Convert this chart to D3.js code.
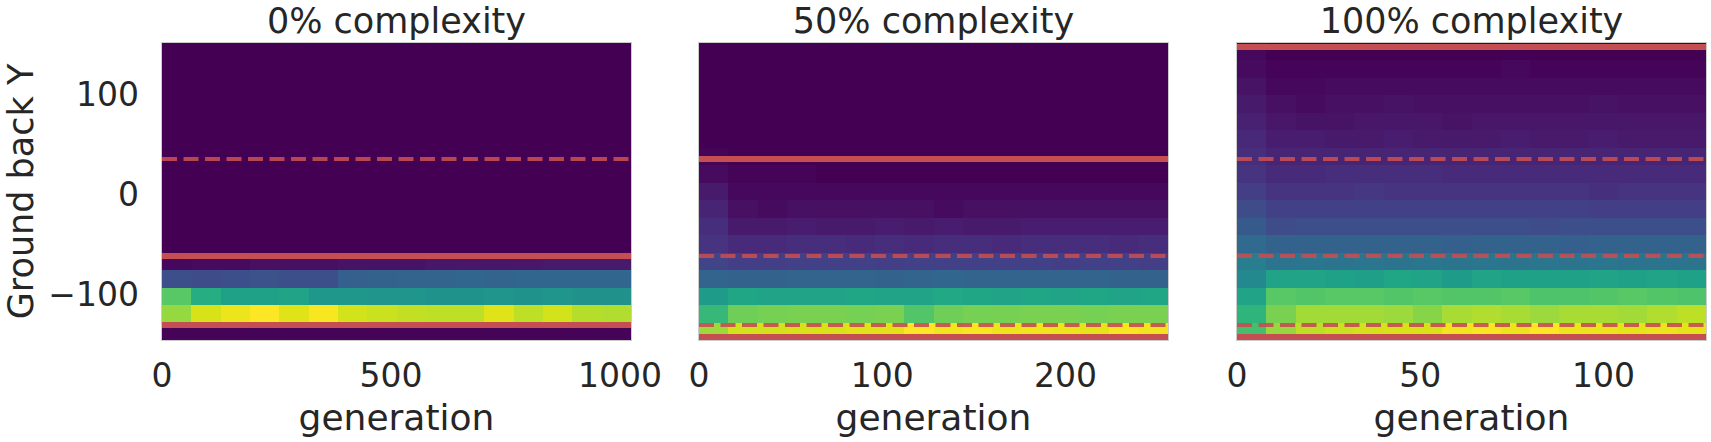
<!DOCTYPE html>
<html>
<head>
<meta charset="utf-8">
<script src="https://cdn.jsdelivr.net/npm/d3@7"></script>
<style>
    body { margin: 0; background: #fff; }
    text { font-family: "DejaVu Sans", sans-serif; fill: #262626; }
</style>
</head>
<body>
<div id="chart"></div>
<script>

// Panel titles and generation extents (16 columns each)
var titles = ["0% complexity", "50% complexity", "100% complexity"];
var genMax = [1024, 256, 128];
var xTicks = [[0, 500, 1000], [0, 100, 200], [0, 50, 100]];

// Ground back Y extent, 17 rows
var yExtent = [-146, 151];
var yTicks = [100, 0, -100];

// Reference levels (solid / dashed) per panel
var solidLevels = [[-62, -131], [35, -143], [147, -143]];
var dashedLevels = [[35], [-62, -131], [35, -62, -131]];

// Normalised density, rows top -> bottom, 16 generation bins each
var heat0 = [
    [0,0,0,0,0,0,0,0,0,0,0,0,0,0,0,0],
    [0,0,0,0,0,0,0,0,0,0,0,0,0,0,0,0],
    [0,0,0,0,0,0,0,0,0,0,0,0,0,0,0,0],
    [0,0,0,0,0,0,0,0,0,0,0,0,0,0,0,0],
    [0,0,0,0,0,0,0,0,0,0,0,0,0,0,0,0],
    [0,0,0,0,0,0,0,0,0,0,0,0,0,0,0,0],
    [0,0,0,0,0,0,0,0,0,0,0,0,0,0,0,0],
    [0,0,0,0,0,0,0,0,0,0,0,0,0,0,0,0],
    [0,0,0,0,0,0,0,0,0,0,0,0,0,0,0,0],
    [0,0,0,0,0,0,0,0,0,0,0,0,0,0,0,0],
    [0,0,0,0,0,0,0,0,0,0,0,0,0,0,0,0],
    [0,0,0,0,0,0,0,0,0,0,0,0,0,0,0,0],
    [0.02,0.03,0.03,0.04,0.04,0.04,0.05,0.05,0.05,0.06,0.06,0.06,0.06,0.07,0.07,0.07],
    [0.24,0.23,0.24,0.25,0.24,0.24,0.30,0.31,0.32,0.32,0.33,0.32,0.33,0.33,0.33,0.33],
    [0.74,0.62,0.57,0.57,0.58,0.53,0.53,0.52,0.52,0.51,0.51,0.52,0.51,0.52,0.50,0.50],
    [0.84,0.94,0.97,1.00,0.95,0.99,0.93,0.92,0.91,0.90,0.90,0.95,0.90,0.93,0.89,0.88],
    [0.01,0.01,0.01,0.01,0.01,0.01,0.01,0.01,0.01,0.01,0.01,0.01,0.01,0.01,0.01,0.01]
];

var heat50 = [
    [0,0,0,0,0,0,0,0,0,0,0,0,0,0,0,0],
    [0,0,0,0,0,0,0,0,0,0,0,0,0,0,0,0],
    [0,0,0,0,0,0,0,0,0,0,0,0,0,0,0,0],
    [0,0,0,0,0,0,0,0,0,0,0,0,0,0,0,0],
    [0,0,0,0,0,0,0,0,0,0,0,0,0,0,0,0],
    [0,0,0,0,0,0,0,0,0,0,0,0,0,0,0,0],
    [0.01,0,0,0,0,0,0,0,0,0,0,0,0,0,0,0],
    [0.03,0.01,0.01,0.01,0,0,0,0,0,0,0,0,0,0,0,0],
    [0.07,0.02,0.02,0.02,0.02,0.02,0.02,0.02,0.02,0.02,0.02,0.02,0.02,0.02,0.02,0.02],
    [0.10,0.04,0.03,0.04,0.04,0.04,0.04,0.04,0.03,0.04,0.04,0.04,0.04,0.04,0.04,0.04],
    [0.13,0.07,0.07,0.08,0.07,0.07,0.08,0.07,0.08,0.07,0.07,0.08,0.08,0.08,0.08,0.08],
    [0.15,0.12,0.12,0.13,0.13,0.12,0.13,0.12,0.13,0.13,0.12,0.13,0.13,0.13,0.12,0.13],
    [0.20,0.18,0.18,0.19,0.19,0.19,0.18,0.19,0.19,0.19,0.19,0.19,0.18,0.19,0.19,0.18],
    [0.32,0.31,0.31,0.32,0.32,0.32,0.31,0.32,0.33,0.32,0.32,0.32,0.32,0.32,0.31,0.31],
    [0.55,0.59,0.58,0.58,0.58,0.59,0.58,0.58,0.60,0.59,0.58,0.59,0.58,0.59,0.58,0.59],
    [0.67,0.78,0.79,0.80,0.80,0.79,0.80,0.73,0.78,0.79,0.79,0.80,0.80,0.79,0.80,0.80],
    [0.85,0.93,0.93,0.94,0.94,0.95,0.95,1.00,0.98,0.99,0.97,0.98,0.97,0.96,0.99,0.98]
];

var heat100 = [
    [0.02,0,0,0,0,0,0,0,0,0,0,0,0,0,0,0],
    [0.03,0.01,0.01,0.01,0.01,0.01,0.01,0.01,0.01,0.02,0.01,0.01,0.01,0.01,0.01,0.01],
    [0.05,0.02,0.02,0.03,0.03,0.03,0.03,0.03,0.03,0.03,0.03,0.03,0.03,0.03,0.03,0.03],
    [0.07,0.04,0.03,0.04,0.04,0.05,0.04,0.04,0.04,0.04,0.04,0.04,0.05,0.04,0.04,0.04],
    [0.09,0.06,0.05,0.05,0.06,0.06,0.06,0.05,0.06,0.06,0.06,0.06,0.06,0.06,0.06,0.06],
    [0.11,0.08,0.08,0.07,0.07,0.08,0.07,0.07,0.07,0.08,0.07,0.07,0.08,0.07,0.07,0.07],
    [0.13,0.10,0.10,0.10,0.10,0.10,0.10,0.10,0.10,0.10,0.10,0.10,0.10,0.10,0.10,0.10],
    [0.15,0.12,0.12,0.13,0.13,0.13,0.13,0.12,0.12,0.12,0.12,0.12,0.12,0.12,0.12,0.12],
    [0.18,0.15,0.15,0.15,0.16,0.15,0.15,0.15,0.15,0.15,0.15,0.15,0.14,0.15,0.15,0.15],
    [0.23,0.19,0.19,0.19,0.19,0.19,0.19,0.19,0.19,0.19,0.19,0.19,0.18,0.18,0.18,0.18],
    [0.28,0.23,0.24,0.24,0.24,0.24,0.24,0.24,0.24,0.24,0.23,0.24,0.24,0.24,0.24,0.24],
    [0.34,0.31,0.31,0.31,0.31,0.31,0.31,0.30,0.31,0.31,0.31,0.30,0.31,0.31,0.31,0.31],
    [0.42,0.38,0.39,0.38,0.39,0.38,0.39,0.38,0.39,0.38,0.39,0.38,0.39,0.38,0.38,0.38],
    [0.47,0.58,0.58,0.57,0.56,0.59,0.58,0.55,0.58,0.57,0.57,0.57,0.58,0.57,0.58,0.57],
    [0.58,0.74,0.73,0.74,0.74,0.73,0.74,0.73,0.73,0.74,0.72,0.72,0.73,0.74,0.73,0.72],
    [0.65,0.80,0.86,0.86,0.86,0.85,0.82,0.87,0.88,0.87,0.85,0.87,0.87,0.86,0.88,0.90],
    [0.70,0.84,0.90,0.92,0.93,0.94,0.94,0.98,0.99,0.97,1.00,0.97,0.97,0.96,0.97,0.96]
];

var heats = [heat0, heat50, heat100];

(function(d3) {

    var width = 1711, height = 442;
    var panelLeft = [162, 699, 1237];
    var panelWidth = 469;
    var top = 43, bottom = 340;
    var red = "#c44e52";

    var svg = d3.select("#chart").append("svg")
        .attr("width", width)
        .attr("height", height);

    var y = d3.scaleLinear().domain(yExtent).range([bottom, top]);
    var color = d3.scaleSequential(d3.interpolateViridis).domain([0, 1]);

    /**
     * Draw one heatmap panel.
     */
    function drawPanel(p) {
        var data = heats[p];
        var nRows = data.length, nCols = data[0].length;
        var x = d3.scaleLinear().domain([0, genMax[p]])
            .range([panelLeft[p], panelLeft[p] + panelWidth]);
        var xStep = genMax[p] / nCols;
        var yStep = (yExtent[1] - yExtent[0]) / nRows;

        var g = svg.append("g");

        var clipId = "clip" + p;
        g.append("clipPath").attr("id", clipId)
            .append("rect")
            .attr("x", x(0)).attr("y", top)
            .attr("width", x(genMax[p]) - x(0)).attr("height", bottom - top);

        // cells
        var cells = [];
        data.forEach(function(row, r) {
            row.forEach(function(v, c) {
                cells.push({r: r, c: c, v: v});
            });
        });
        g.append("g").attr("clip-path", "url(#" + clipId + ")")
            .selectAll("rect.cell").data(cells).enter()
            .append("rect")
            .attr("class", "cell")
            .attr("shape-rendering", "crispEdges")
            .attr("x", function(d) { return x(d.c * xStep); })
            .attr("width", function(d) { return x((d.c + 1) * xStep) - x(d.c * xStep) + 1; })
            .attr("y", function(d) { return y(yExtent[1] - d.r * yStep); })
            .attr("height", function(d) { return y(yExtent[1] - (d.r + 1) * yStep) - y(yExtent[1] - d.r * yStep) + 1; })
            .attr("fill", function(d) { return color(d.v); });

        var lines = g.append("g").attr("clip-path", "url(#" + clipId + ")");

        // solid levels
        lines.selectAll("line.solid").data(solidLevels[p]).enter()
            .append("line")
            .attr("x1", x(0)).attr("x2", x(genMax[p]))
            .attr("y1", function(d) { return y(d); })
            .attr("y2", function(d) { return y(d); })
            .attr("stroke", red)
            .attr("stroke-width", 6);

        // dashed levels
        lines.selectAll("line.dashed").data(dashedLevels[p]).enter()
            .append("line")
            .attr("x1", x(0)).attr("x2", x(genMax[p]))
            .attr("y1", function(d) { return y(d); })
            .attr("y2", function(d) { return y(d); })
            .attr("stroke", red)
            .attr("stroke-opacity", 0.9)
            .attr("stroke-width", 4)
            .attr("stroke-dasharray", "15,6.5");

        // frame
        g.append("rect")
            .attr("x", x(0) - 0.5).attr("y", top - 0.5)
            .attr("width", x(genMax[p]) - x(0) + 1).attr("height", bottom - top + 1)
            .attr("fill", "none")
            .attr("stroke", "#cccccc")
            .attr("stroke-width", 1);

        // x tick labels
        g.selectAll("text.xtick").data(xTicks[p]).enter()
            .append("text")
            .attr("x", function(d) { return x(d); })
            .attr("y", 387)
            .attr("text-anchor", "middle")
            .style("font-size", "33px")
            .text(function(d) { return d; });

        // x label
        g.append("text")
            .attr("x", x(genMax[p] / 2))
            .attr("y", 430)
            .attr("text-anchor", "middle")
            .style("font-size", "36px")
            .text("generation");

        // title
        g.append("text")
            .attr("x", x(genMax[p] / 2))
            .attr("y", 32.5)
            .attr("text-anchor", "middle")
            .style("font-size", "35px")
            .text(titles[p]);
    }

    titles.forEach(function(t, i) { drawPanel(i); });

    // y axis on first panel only
    svg.selectAll("text.ytick").data(yTicks).enter()
        .append("text")
        .attr("x", 139)
        .attr("y", function(d) { return y(d); })
        .attr("dy", "0.36em")
        .attr("text-anchor", "end")
        .style("font-size", "33px")
        .text(function(d) { return d < 0 ? "\u2212" + Math.abs(d) : d; });

    svg.append("text")
        .attr("transform", "translate(33," + ((top + bottom) / 2) + ") rotate(-90)")
        .attr("text-anchor", "middle")
        .style("font-size", "35px")
        .text("Ground back Y");

})(d3);
</script>
</body>
</html>
